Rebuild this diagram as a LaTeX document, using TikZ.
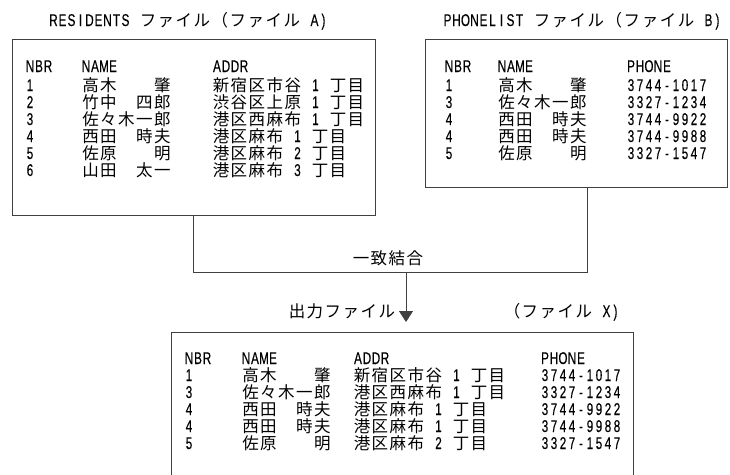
\documentclass[tikz,border=0pt]{standalone}
\usepackage{fontspec}
\newfontfamily\cjkfam{Noto Sans CJK JP}
\newfontfamily\latfam[FakeStretch=0.69,FakeBold=0.3]{Liberation Sans}
\usetikzlibrary{arrows.meta}
\makeatletter
\def\cell@#1{\ifx#1\@nil\else\makebox[\cw][c]{#1}\expandafter\cell@\fi}
\def\mono#1{{\latfam\fontsize{17}{17}\selectfont\def\cw{9pt}\expandafter\cell@#1\@nil}}
\def\jtext#1{{\cjkfam\fontsize{16.5}{17}\selectfont\def\cw{18pt}\expandafter\cell@#1\@nil}}
\makeatother
\newcommand\addr[2]{\jtext{#1}\makebox[27pt][c]{\mono{#2}}\jtext{丁目}}
\begin{document}
\begin{tikzpicture}[x=1pt,y=-1pt,
  line/.style={draw=black!75, line width=0.9pt},
  txt/.style={anchor=base west, inner sep=0pt, outer sep=0pt},
  box/.style={line, anchor=north west, inner sep=0pt, outer sep=0pt}]
\useasboundingbox (0,0) rectangle (730,474);
\fill[white] (0,0) rectangle (730,474);
% boxes
\node[box, minimum width=363pt, minimum height=176pt] (A) at (12,39) {};
\node[box, minimum width=302pt, minimum height=148pt] (B) at (425,39) {};
\node[box, minimum width=462pt, minimum height=160pt] (X) at (171,332) {};
% titles
\node[txt] (tA) at (49,26) {\mono{RESIDENTS}\hspace{9pt}\jtext{ファイル（ファイル}\hspace{9pt}\mono{A)}};
\node[txt] (tB) at (443,26) {\mono{PHONELIST}\hspace{9pt}\jtext{ファイル（ファイル}\hspace{9pt}\mono{B)}};
% file A
\node[txt] (aH1) at (25.5,72) {\mono{NBR}};
\node[txt] (aH2) at (81.5,72) {\mono{NAME}};
\node[txt] (aH3) at (212.5,72) {\mono{ADDR}};
\foreach \n/\nm/\ad/\d [count=\i] in {1/高木　　肇/新宿区市谷/1, 2/竹中　四郎/渋谷区上原/1, 3/佐々木一郎/港区西麻布/1, 4/西田　時夫/港区麻布/1, 5/佐原　　明/港区麻布/2, 6/山田　太一/港区麻布/3}{
  \node[txt] (aN\i) at (25.5,{91+17*(\i-1)}) {\mono{\n}};
  \node[txt] (aM\i) at (81.5,{91+17*(\i-1)}) {\jtext{\nm}};
  \node[txt] (aA\i) at (212,{91+17*(\i-1)}) {\addr{\ad}{\d}};
}
% file B
\node[txt] (bH1) at (444.5,72) {\mono{NBR}};
\node[txt] (bH2) at (497.5,72) {\mono{NAME}};
\node[txt] (bH3) at (626.5,72) {\mono{PHONE}};
\foreach \n/\nm/\ph [count=\i] in {1/高木　　肇/3744-1017, 3/佐々木一郎/3327-1234, 4/西田　時夫/3744-9922, 4/西田　時夫/3744-9988, 5/佐原　　明/3327-1547}{
  \node[txt] (bN\i) at (444.5,{91+17*(\i-1)}) {\mono{\n}};
  \node[txt] (bM\i) at (497.5,{91+17*(\i-1)}) {\jtext{\nm}};
  \node[txt] (bP\i) at (626.5,{91+17*(\i-1)}) {\mono{\ph}};
}
% file X
\node[txt] (xH1) at (184.5,364) {\mono{NBR}};
\node[txt] (xH2) at (241.5,364) {\mono{NAME}};
\node[txt] (xH3) at (353.5,364) {\mono{ADDR}};
\node[txt] (xH4) at (540.5,364) {\mono{PHONE}};
\foreach \n/\nm/\ad/\d/\ph [count=\i] in {1/高木　　肇/新宿区市谷/1/3744-1017, 3/佐々木一郎/港区西麻布/1/3327-1234, 4/西田　時夫/港区麻布/1/3744-9922, 4/西田　時夫/港区麻布/1/3744-9988, 5/佐原　　明/港区麻布/2/3327-1547}{
  \node[txt] (xN\i) at (184.5,{381+17*(\i-1)}) {\mono{\n}};
  \node[txt] (xM\i) at (241.5,{381+17*(\i-1)}) {\jtext{\nm}};
  \node[txt] (xA\i) at (353,{381+17*(\i-1)}) {\addr{\ad}{\d}};
  \node[txt] (xP\i) at (540.5,{381+17*(\i-1)}) {\mono{\ph}};
}
% connectors
\coordinate (join) at (587,272);
\coordinate (split) at (406,272);
\draw[line] (A.south) |- (join) -- (join |- B.south);
\draw[line, -{Triangle[width=14pt,length=11pt]}, shorten >=10pt] (split) -- (split |- X.north);
\node[txt] (lj) at (352,264) {\jtext{一致結合}};
\node[txt] (lo) at (288,317) {\jtext{出力ファイル}};
\node[txt] (lx) at (503,317) {\jtext{（ファイル}\hspace{9pt}\mono{X)}};
\end{tikzpicture}
\end{document}
